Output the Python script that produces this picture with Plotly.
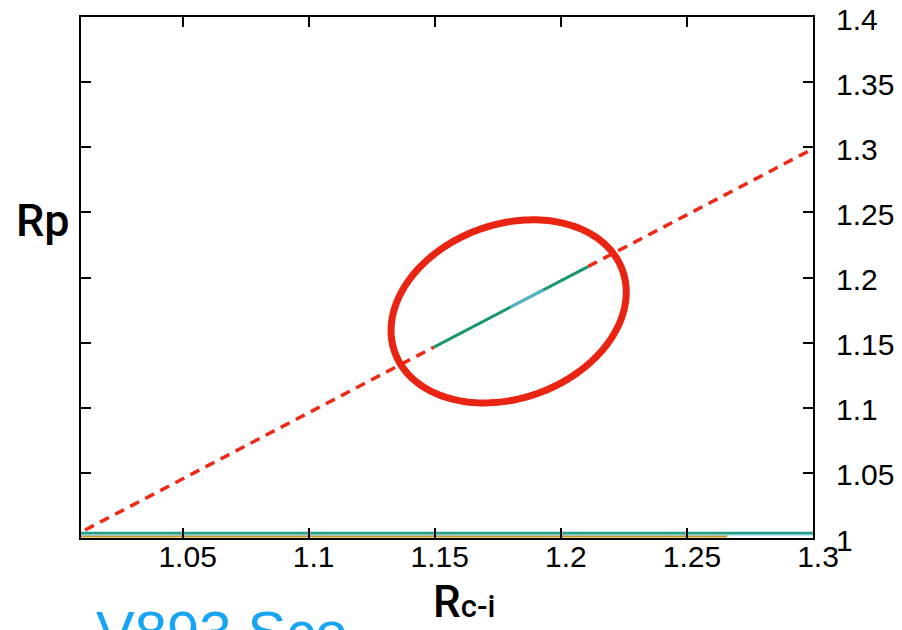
import numpy as np
import plotly.graph_objects as go

# Axis ticks
x_ticks = [1.05, 1.10, 1.15, 1.20, 1.25, 1.30]
x_tick_text = ["1.05", "1.1", "1.15", "1.2", "1.25", "1.3"]
y_ticks = [1.00, 1.05, 1.10, 1.15, 1.20, 1.25, 1.30, 1.35, 1.40]
y_tick_text = ["1", "1.05", "1.1", "1.15", "1.2", "1.25", "1.3", "1.35", "1.4"]

# Observed track
track_x = [1.1497, 1.2108]
track_y = [1.1466, 1.2084]
track_hi_x = [1.180, 1.193]
track_hi_y = [1.1773, 1.1905]

# Reference relation Rp = Rc-i (dashed), interrupted where the track lies
ref_x = [1.0113, 1.1497, None, 1.2108, 1.300]
ref_y = [1.0061, 1.1466, None, 1.2084, 1.2988]

# Near-unity curves along the bottom
base_teal_x = [1.0097, 1.300]
base_teal_y = [1.0038, 1.0038]
base_cyan_x = [1.0097, 1.300]
base_cyan_y = [1.0027, 1.0027]
base_gold_x = [1.0097, 1.266]
base_gold_y = [1.0012, 1.0012]

X_RANGE = [1.0097, 1.300]
Y_RANGE = [1.0, 1.4]

W, H = 902, 630
ML, MR, MT, MB = 81, 89, 17, 92
plot_w = W - ML - MR
plot_h = H - MT - MB
px_per_x = plot_w / (X_RANGE[1] - X_RANGE[0])
px_per_y = plot_h / (Y_RANGE[1] - Y_RANGE[0])

fig = go.Figure()

fig.add_trace(go.Scatter(x=base_gold_x, y=base_gold_y, mode="lines",
                         line=dict(color="#c8951f", width=2.2), hoverinfo="skip"))
fig.add_trace(go.Scatter(x=base_cyan_x, y=base_cyan_y, mode="lines",
                         line=dict(color="#8fd6e6", width=1.8), hoverinfo="skip"))
fig.add_trace(go.Scatter(x=base_teal_x, y=base_teal_y, mode="lines",
                         line=dict(color="#26a088", width=2.5), hoverinfo="skip"))

fig.add_trace(go.Scatter(x=ref_x, y=ref_y, mode="lines", connectgaps=False,
                         line=dict(color="#ee2a17", width=3.5, dash="10px,7px"),
                         hoverinfo="skip"))

fig.add_trace(go.Scatter(x=track_x, y=track_y, mode="lines",
                         line=dict(color="#17966f", width=3), hoverinfo="skip"))
fig.add_trace(go.Scatter(x=track_hi_x, y=track_hi_y, mode="lines",
                         line=dict(color="#62b6dc", width=3), opacity=0.85,
                         hoverinfo="skip"))

# Highlight ellipse around the track (size given in screen pixels)
cx, cy = 1.1793, 1.1740
a_px, b_px, tilt = 121.0, 87.0, np.deg2rad(19.8)
t = np.linspace(0, 2 * np.pi, 181)
ex = a_px * np.cos(t) * np.cos(tilt) - b_px * np.sin(t) * np.sin(tilt)
ey = a_px * np.cos(t) * np.sin(tilt) + b_px * np.sin(t) * np.cos(tilt)
ell_x = cx + ex / px_per_x
ell_y = cy + ey / px_per_y
path = "M " + " L ".join(f"{x:.5f},{y:.5f}" for x, y in zip(ell_x, ell_y)) + " Z"
fig.add_shape(type="path", path=path, xref="x", yref="y",
              line=dict(color="#ea2412", width=7), layer="above")

def px_to_paper(px, py):
    return (px - ML) / plot_w, (H - MB - py) / plot_h

label_font = dict(family="Roboto", color="black", size=45, weight=500)

ax_, ay_ = px_to_paper(14, 220)
fig.add_annotation(text="Rp", x=ax_, y=ay_, xref="paper", yref="paper",
                   xanchor="left", yanchor="middle", showarrow=False,
                   font=label_font)

bx_, by_ = px_to_paper(431, 602)
fig.add_annotation(text="R<span style='font-size:31px'>c-i</span>", x=bx_, y=by_,
                   xref="paper", yref="paper", xanchor="left", yanchor="middle",
                   showarrow=False, font=dict(family="Roboto", color="black", size=44, weight=500))

vx_, vy_ = px_to_paper(94, 597)
fig.add_annotation(text="V893 Sco", x=vx_, y=vy_, xref="paper", yref="paper",
                   xanchor="left", yanchor="top", showarrow=False,
                   font=dict(family="Liberation Sans", color="#17a4f4", size=58))

axis_common = dict(showgrid=False, zeroline=False, showline=True, linecolor="black",
                   linewidth=2, mirror="ticks", ticks="inside", ticklen=10,
                   tickwidth=1.5, tickcolor="black", automargin=False,
                   tickfont=dict(family="Liberation Sans", size=30, color="black"))

fig.update_layout(
    width=W, height=H,
    margin=dict(l=ML, r=MR, t=MT, b=MB, pad=0),
    paper_bgcolor="white", plot_bgcolor="white",
    showlegend=False,
    xaxis=dict(range=X_RANGE, tickvals=x_ticks, ticktext=x_tick_text,
               ticklabelstandoff=-9, ticklabelshift=5, **axis_common),
    yaxis=dict(range=Y_RANGE, tickvals=y_ticks, ticktext=y_tick_text, side="right",
               ticklabelstandoff=15, ticklabelshift=2, **axis_common),
)

fig.write_html("out.html")
